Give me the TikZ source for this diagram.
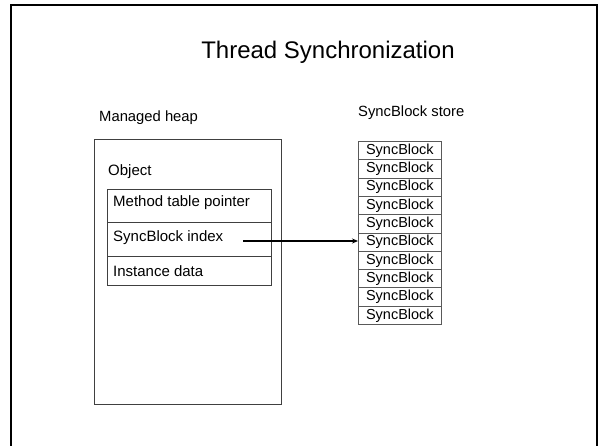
\documentclass[tikz,border=0pt]{standalone}
\usepackage{fontspec}
\setmainfont{Liberation Sans}
\usetikzlibrary{arrows.meta}
\begin{document}
\begin{tikzpicture}[x=1pt,y=-1pt,
  box/.style={draw=black!75,line width=1pt},
  lbl/.style={anchor=west,inner sep=0pt,font=\fontsize{15}{17}\selectfont},
  captxt/.style={anchor=west,inner sep=0pt,font=\fontsize{14.8}{17}\selectfont},
  sb/.style={draw=black!65,line width=0.8pt,minimum width=83pt,minimum height=18.3pt,inner sep=0pt,anchor=north west,font=\fontsize{14.5}{16}\selectfont},
  conn/.style={line width=1.6pt,-{Stealth[length=6pt,width=5pt]}}]
\useasboundingbox (0,0) rectangle (600,445);
% slide frame
\draw[line width=2pt] (11,450) -- (11,5) -- (597,5) -- (597,450);
% title
\node[font=\fontsize{24}{27}\selectfont] (title) at (328,52) {Thread Synchronization};
% labels
\node[captxt] (heaplbl) at (99,118) {Managed heap};
\node[captxt] (storelbl) at (358,113) {SyncBlock store};
% heap
\draw[box] (94,139) rectangle (281,404);
\node[lbl] (obj) at (108,172) {Object};
\draw[box] (107,189) rectangle (271,285);
\draw[box] (107,222) -- (271,222);
\draw[box] (107,256) -- (271,256);
\node[lbl] (mtp) at (113,203) {Method table pointer};
\node[lbl] (sbi) at (113,238) {SyncBlock index};
\node[lbl] (inst) at (113,271) {Instance data};
\coordinate (astart) at (243,241);
% syncblock column
\foreach \i in {0,...,9}{
  \node[sb] (s\i) at (358,{141+18.3*\i}) {SyncBlock};
}
\draw[conn] (astart) -- (astart -| s5.west);
\end{tikzpicture}
\end{document}
